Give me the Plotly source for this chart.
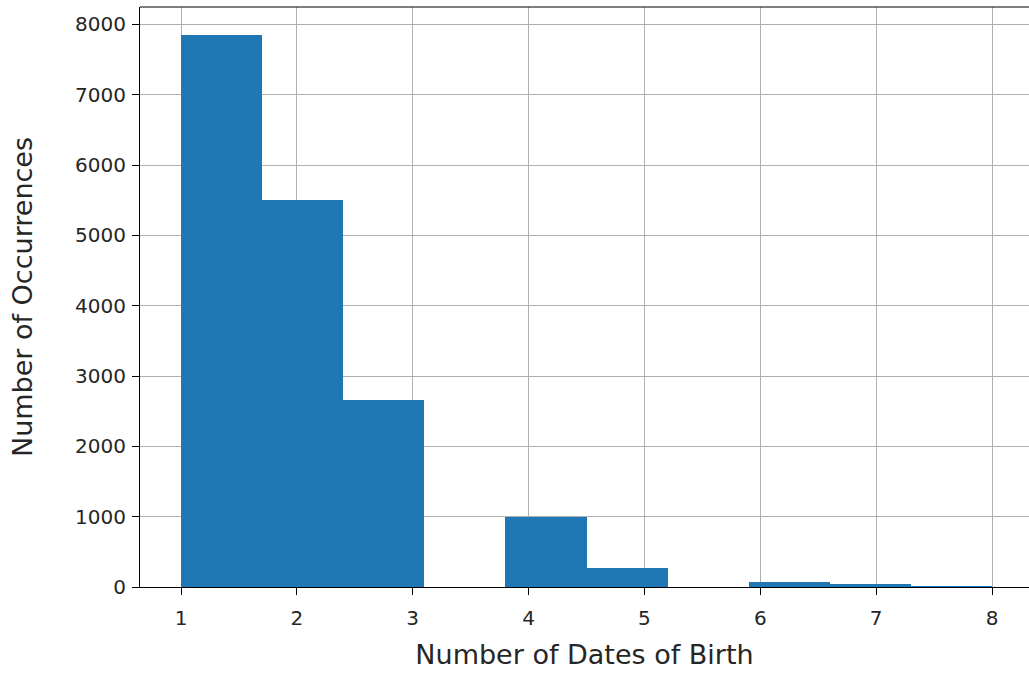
import numpy as np
import plotly.graph_objects as go

# Histogram data (10 bins between 1 and 8)
bin_start = 1.0
bin_end = 8.0
n_bins = 10
counts = [7855, 5497, 2656, 0, 994, 265, 0, 70, 45, 3]
x_ticks = [1, 2, 3, 4, 5, 6, 7, 8]
y_ticks = [0, 1000, 2000, 3000, 4000, 5000, 6000, 7000, 8000]
x_title = "Number of Dates of Birth"
y_title = "Number of Occurrences"

edges = np.linspace(bin_start, bin_end, n_bins + 1)
centers = (edges[:-1] + edges[1:]) / 2
widths = np.diff(edges)

fig = go.Figure()
fig.add_trace(go.Bar(
    x=centers, y=counts, width=widths,
    marker=dict(color="#1f77b4", line=dict(width=0)),
    hoverinfo="skip",
))

font = dict(family="DejaVu Sans", size=22.6, color="#262626")
tickfont = dict(family="DejaVu Sans", size=20, color="#262626")
fig.update_layout(
    width=1029, height=674,
    margin=dict(l=140, r=0, t=7, b=87),
    paper_bgcolor="white", plot_bgcolor="white",
    showlegend=False, bargap=0,
    font=font,
)
fig.update_xaxes(
    range=[0.6461, 8.319], tickvals=x_ticks, tickfont=tickfont,
    showgrid=True, gridcolor="#b0b0b0", gridwidth=1.2,
    showline=True, linecolor="black", linewidth=1.2,
    ticks="outside", ticklen=7, tickcolor="black", ticklabelstandoff=6,
    layer="above traces", zeroline=False,
    title=dict(text=x_title, standoff=16),
)
fig.update_yaxes(
    range=[0, 8248], tickvals=y_ticks, tickfont=tickfont,
    showgrid=True, gridcolor="#b0b0b0", gridwidth=1.2,
    showline=True, linecolor="black", linewidth=1.2,
    ticks="outside", ticklen=7, tickcolor="black", ticklabelstandoff=2,
    layer="above traces", zeroline=False,
    title=dict(text=y_title, standoff=34),
)
fig.add_shape(type="line", xref="paper", yref="paper", x0=0, x1=1, y0=1, y1=1,
              line=dict(color="black", width=1.2))
fig.write_html("out.html", config={"displayModeBar": False},
               post_script="document.body.style.margin='0';")
